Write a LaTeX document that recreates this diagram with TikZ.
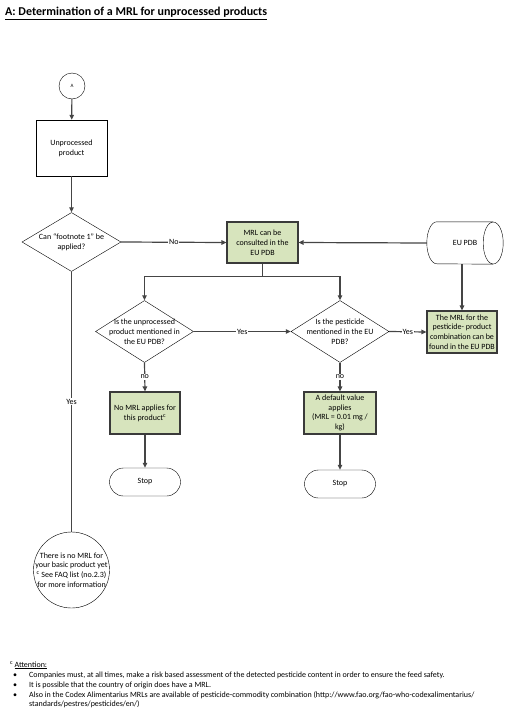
\documentclass[tikz,border=0pt]{standalone}
\usepackage{fontspec}
\setmainfont{Carlito}
\usetikzlibrary{arrows.meta,positioning,shapes.geometric,calc}
\definecolor{mrlGreen}{HTML}{D7E4BD}
\definecolor{mrlEdge}{HTML}{3A3A3A}
\definecolor{mrlLine}{HTML}{454545}
\tikzset{
  >={Triangle[length=5pt,width=4.5pt]},
  txt/.style={font=\fontsize{8}{9.8}\selectfont, align=center, inner sep=0pt},
  proc/.style={draw=black, fill=white, minimum width=71pt, minimum height=56pt, txt},
  pdbbox/.style={draw=mrlEdge, line width=1.1pt, fill=mrlGreen, minimum width=71pt,
              minimum height=41pt, txt},
  decision/.style={diamond, draw=black, minimum width=98pt, minimum height=62pt, inner sep=0pt},
  stopper/.style={draw=black, rounded corners=14pt, minimum width=71pt, minimum height=28pt, txt},
  conn/.style={draw=mrlLine, line width=1.2pt},
  flow/.style={conn, ->},
  lbl/.style={txt, fill=white, inner sep=0.8pt},
  note/.style={font=\fontsize{8}{9}\selectfont, inner sep=0pt, anchor=base west},
}
\begin{document}
\begin{tikzpicture}[x=1pt,y=-1pt]
  \useasboundingbox (0,0) rectangle (512,717);
  % title
  \node[anchor=base west, inner sep=0pt, font=\fontsize{12}{14}\selectfont\bfseries] (title) at (5,16)
    {\underline{A: Determination of a MRL for unprocessed products}};

  % nodes
  \node[circle, draw=black, minimum size=26pt, inner sep=0pt, font=\fontsize{5}{6}\selectfont] (a) at (72,86) {A};
  \node[proc] (prod) at (71.5,148) {Unprocessed\\product};
  \node[decision, minimum width=99pt, minimum height=59pt] (q1) at (71.5,242) {};
  \node[txt] (q1txt) at (q1) {Can “footnote 1” be\\applied?};
  \node[pdbbox] (mrlpdb) at (262.5,242.5) {MRL can be\\consulted in the\\EU PDB};
  \node[minimum width=76pt, minimum height=42pt, txt] (eupdb) at (465,243) {EU PDB};
  % database drum
  \draw ($(eupdb.east)+(-10,0)$) ellipse[x radius=10, y radius=21];
  \draw ($(eupdb.north east)+(-10,0)$) -- ($(eupdb.north west)+(10,0)$)
    arc[start angle=-90, end angle=-270, x radius=10, y radius=21]
    -- ($(eupdb.south east)+(-10,0)$);
  \node[decision] (q2) at (144.5,331.5) {};
  \node[txt] (q2txt) at (q2) {Is the unprocessed\\product mentioned in\\the EU PDB?};
  \node[decision] (q3) at (340,331.5) {};
  \node[txt] (q3txt) at (q3) {Is the pesticide\\mentioned in the EU\\PDB?};
  \node[pdbbox, minimum width=70pt, minimum height=42pt] (found) at (462,332)
    {The MRL for the\\pesticide- product\\combination can be\\found in the EU PDB};
  \node[pdbbox, minimum width=70pt, minimum height=42pt] (nomrl) at (145,413)
    {No MRL applies for\\this product\textsuperscript{c}};
  \node[pdbbox, minimum width=72pt, minimum height=42pt] (default) at (340,413)
    {A default value\\applies\\(MRL = 0.01 mg /\\kg)};
  \node[stopper] (stop1) at (145,482) {Stop};
  \node[stopper] (stop2) at (340,484) {Stop};
  \node[circle, draw=black, minimum size=76pt, inner sep=0pt] (noyet) at (71.5,570) {};
  \node[txt] (noyettxt) at (noyet) {There is no MRL for\\your basic product yet\\
    \textsuperscript{c} See FAQ list (no.2.3)\\for more information};

  % connectors
  \draw[flow] (a) -- (prod);
  \draw[flow] (prod) -- (q1);
  \draw[flow] (q1.east) -- node[lbl]{No} (mrlpdb.west);
  \draw[flow] (eupdb.west) -- (mrlpdb.east);
  \coordinate (split) at ($(mrlpdb.south)+(0,13)$);
  \draw[conn] (mrlpdb.south) -- (split);
  \draw[flow] (split) -| (q2.north);
  \draw[flow] (split) -| (q3.north);
  \draw[flow] (q2.east) -- node[lbl]{Yes} (q3.west);
  \draw[flow] (q3.east) -- node[lbl]{Yes} (found.west);
  \draw[flow] (found.north |- eupdb.south) -- (found.north);
  \draw[flow] (q2.south) -- node[lbl]{no} (nomrl.north);
  \draw[flow] (q3.south) -- node[lbl]{no} (default.north);
  \draw[flow] (nomrl) -- (stop1);
  \draw[flow] (default) -- (stop2);
  \draw[conn] (q1.south) -- node[lbl]{Yes} (noyet.north);

  % footnote
  \node[note] (att) at (10,667) {\textsuperscript{c}\,\underline{Attention:}};
  \foreach \y in {677,687,697} \node[note] (b\y) at (13,\y) {•};
  \node[note] (n1) at (29,677) {Companies must, at all times, make a risk based assessment of the detected pesticide content in order to ensure the feed safety.};
  \node[note] (n2) at (29,687) {It is possible that the country of origin does have a MRL.};
  \node[note] (n3) at (29,697) {Also in the Codex Alimentarius MRLs are available of pesticide-commodity combination (http://www.fao.org/fao-who-codexalimentarius/};
  \node[note] (n4) at (29,706) {standards/pestres/pesticides/en/)};
\end{tikzpicture}
\end{document}
